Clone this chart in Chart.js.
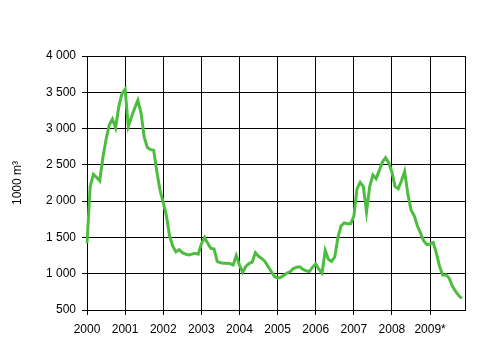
<!DOCTYPE html>
<html>
<head>
<meta charset="utf-8">
<title>1000 m3</title>
<script src="https://cdn.jsdelivr.net/npm/chart.js@4"></script>
<style>
  body { margin: 0; background: #fff; }
  canvas { display: block; }
</style>
</head>
<body>
<canvas id="chart" width="499" height="346"></canvas>
<script>
// Data
const years = ['2000', '2001', '2002', '2003', '2004', '2005', '2006', '2007', '2008', '2009*'];

// monthly values, Jan 2000 .. Nov 2009
const values = [
    1420, 2200, 2370, 2330, 2280, 2600, 2850, 3050, 3130, 3010, 3300, 3480, // 2000
    3540, 3030, 3160, 3280, 3390, 3220, 2880, 2740, 2710, 2700, 2400, 2150, // 2001
    1980, 1800, 1520, 1380, 1300, 1330, 1290, 1270, 1260, 1270, 1280, 1270, // 2002
    1410, 1500, 1420, 1350, 1340, 1170, 1150, 1145, 1145, 1140, 1120, 1250, // 2003
    1120, 1020, 1100, 1140, 1160, 1290, 1240, 1210, 1170, 1100, 1030, 960,  // 2004
    940, 950, 980, 1010, 1030, 1070, 1090, 1095, 1060, 1040, 1030, 1090,    // 2005
    1134, 1060, 1010, 1320, 1200, 1170, 1230, 1500, 1660, 1700, 1690, 1690, // 2006
    1790, 2170, 2260, 2200, 1850, 2200, 2360, 2310, 2420, 2540, 2600, 2530, // 2007
    2400, 2200, 2170, 2280, 2410, 2100, 1880, 1800, 1660, 1560, 1450, 1400, // 2008
    1410, 1430, 1280, 1100, 980, 985, 940, 830, 760, 700, 660               // 2009
];

const yTicks = [500, 1000, 1500, 2000, 2500, 3000, 3500, 4000];

// one label per month, the axis runs to Dec 2009
const labels = [];
years.forEach(y => {
    for (let m = 1; m <= 12; m++) labels.push(y + '-' + m);
});
const lastIndex = labels.length - 1;

function fmt(v) {
    if (v < 1000) return String(v);
    return Math.floor(v / 1000) + ' ' + String(v % 1000).padStart(3, '0');
}

Chart.defaults.font.family = '"Liberation Sans", Arial, sans-serif';
Chart.defaults.font.size = 12;
Chart.defaults.color = '#000';

new Chart(document.getElementById('chart').getContext('2d'), {
    type: 'line',
    data: {
        labels: labels,
        datasets: [{
            data: values,
            borderColor: '#4dbd3f',
            borderWidth: 3,
            pointRadius: 0,
            tension: 0,
            fill: false
        }]
    },
    options: {
        responsive: false,
        animation: false,
        devicePixelRatio: 1,
        layout: { padding: { top: 56, right: 34, bottom: 0, left: 0 } },
        plugins: {
            legend: { display: false },
            tooltip: { enabled: false }
        },
        scales: {
            x: {
                type: 'category',
                offset: false,
                afterFit: scale => { scale.height = 36; },
                border: { color: '#000', width: 1 },
                grid: {
                    lineWidth: 1,
                    tickLength: 5,
                    color: ctx => (ctx.index % 12 === 0 || ctx.index === lastIndex) ? '#000' : 'transparent',
                    tickColor: ctx => (ctx.index % 12 === 0 && ctx.index !== lastIndex) ? '#000' : 'transparent'
                },
                ticks: {
                    autoSkip: false,
                    maxRotation: 0,
                    padding: 7,
                    callback: (v, i) => i % 12 === 0 ? years[i / 12] : ''
                }
            },
            y: {
                min: 500,
                max: 4000,
                afterFit: scale => { scale.width = 87; },
                afterBuildTicks: scale => { scale.ticks = yTicks.map(v => ({ value: v })); },
                border: { color: '#000', width: 1 },
                grid: { color: '#000', lineWidth: 1, tickLength: 5 },
                ticks: {
                    padding: 6,
                    callback: v => fmt(v)
                },
                title: {
                    display: true,
                    text: '1000 m³',
                    padding: { top: 10, bottom: 0 }
                }
            }
        }
    }
});
</script>
</body>
</html>
